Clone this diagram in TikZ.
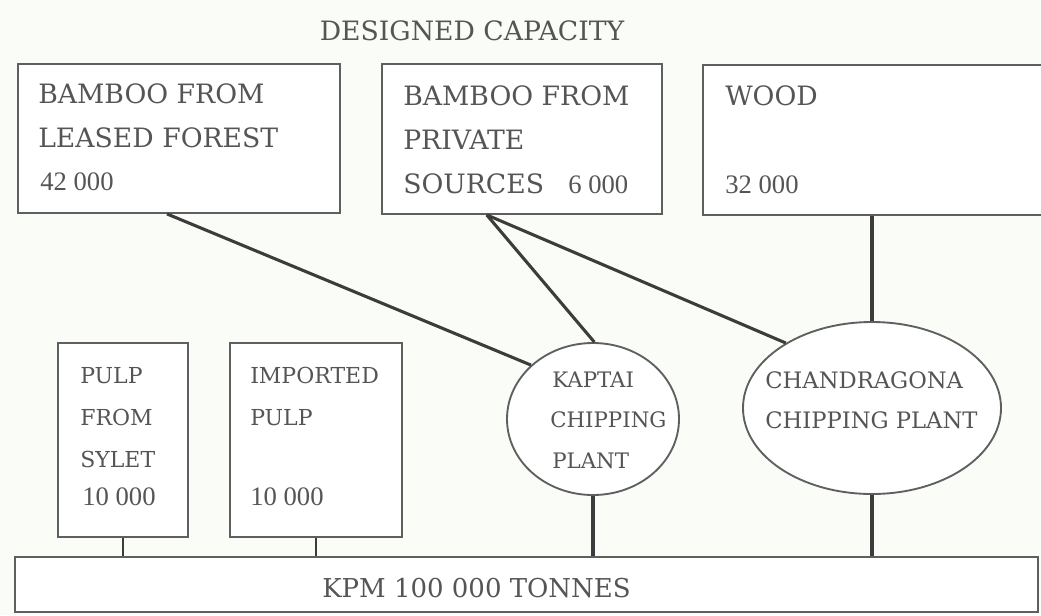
\documentclass[tikz,border=0pt]{standalone}
\usepackage{fontspec}
\usetikzlibrary{shapes.geometric,calc}
\newfontfamily\labfont{DejaVu Serif}
\newfontfamily\numfont{Liberation Serif}
\definecolor{bg}{RGB}{250,252,247}
\definecolor{ink}{RGB}{85,85,85}
\definecolor{edge}{RGB}{95,95,95}
\definecolor{wire}{RGB}{60,60,60}
\begin{document}
\begin{tikzpicture}[x=0.75pt,y=-0.75pt,
  box/.style={draw=edge,line width=1.4pt,fill=white,rectangle,inner sep=0pt},
  plant/.style={draw=edge,line width=1.4pt,fill=white,ellipse,inner sep=0pt},
  wire/.style={draw=wire,line width=2.3pt},
  stub/.style={draw=wire,line width=2pt},
  txt/.style={anchor=base west,inner sep=0pt,text=ink},
  big/.style={txt,font=\labfont\fontsize{20}{20}\selectfont},
  ttl/.style={txt,font=\labfont\fontsize{20}{20}\selectfont},
  mid/.style={txt,font=\labfont\fontsize{17}{17}\selectfont},
  sml/.style={txt,font=\labfont\fontsize{16.5}{16.5}\selectfont},
  kap/.style={txt,font=\labfont\fontsize{16}{16}\selectfont},
  bot/.style={txt,font=\labfont\fontsize{19.5}{19.5}\selectfont},
  num/.style={txt,font=\numfont\fontsize{20}{20}\selectfont}]
\fill[bg] (0,0) rectangle (1041,615);
\useasboundingbox (0,0) rectangle (1041,615);
\clip (0,0) rectangle (1041,615);

% boxes
\node[box,minimum width=322*0.75pt,minimum height=149*0.75pt] (b1) at (179,138.5) {};
\node[box,minimum width=280*0.75pt,minimum height=150*0.75pt] (b2) at (522,139) {};
\node[box,minimum width=367*0.75pt,minimum height=150*0.75pt] (wood) at (886.5,140) {};
\node[box,minimum width=130*0.75pt,minimum height=194*0.75pt] (sy) at (123,440) {};
\node[box,minimum width=172*0.75pt,minimum height=194*0.75pt] (imp) at (316,440) {};
\node[box,minimum width=1023*0.75pt,minimum height=55*0.75pt] (bar) at (526.5,584.5) {};
\node[plant,minimum width=172*0.75pt,minimum height=152*0.75pt] (kapt) at (593,419) {};
\node[plant,minimum width=258*0.75pt,minimum height=172*0.75pt] (chan) at (872,408) {};

% connectors
\draw[wire] ($(b1.south west)!0.463!(b1.south east)$) -- (kapt.139);
\draw[wire] ($(b2.south west)!0.375!(b2.south east)$) -- (kapt.89);
\draw[wire] ($(b2.south west)!0.375!(b2.south east)$) -- (chan.143);
\draw[wire] (wood.south -| chan.north) -- (chan.north);
\draw[stub] (sy.south) -- (sy.south |- bar.north);
\draw[stub] (imp.south) -- (imp.south |- bar.north);
\draw[wire] (kapt.south) -- (kapt.south |- bar.north);
\draw[wire] (chan.south) -- (chan.south |- bar.north);

% texts
\node[ttl,anchor=base] (title) at (472,40) {DESIGNED CAPACITY};

\node[big] (t1a) at (38,103) {BAMBOO FROM};
\node[big] (t1b) at (38,147) {LEASED FOREST};
\node[num] (t1c) at (40,190) {42 000};

\node[big] (t2a) at (403,105) {BAMBOO FROM};
\node[big] (t2b) at (403,149) {PRIVATE};
\node[big] (t2c) at (403,193) {SOURCES};
\node[num] (t2d) at (568,193) {6 000};

\node[big] (t3a) at (725,105) {WOOD};
\node[num] (t3b) at (725,193) {32 000};

\node[sml] (t4a) at (80,383) {PULP};
\node[sml] (t4b) at (80,425) {FROM};
\node[sml] (t4c) at (80,467) {SYLET};
\node[num] (t4d) at (82,505) {10 000};

\node[sml] (t5a) at (250,383) {IMPORTED};
\node[sml] (t5b) at (250,425) {PULP};
\node[num] (t5c) at (250,505) {10 000};

\node[kap] (t6a) at (552,387) {KAPTAI};
\node[kap] (t6b) at (550,427) {CHIPPING};
\node[kap] (t6c) at (552,468) {PLANT};

\node[mid] (t7a) at (765,388) {CHANDRAGONA};
\node[mid] (t7b) at (765,428) {CHIPPING PLANT};

\node[bot] (t8) at (322,597) {KPM 100 000 TONNES};
\end{tikzpicture}
\end{document}
